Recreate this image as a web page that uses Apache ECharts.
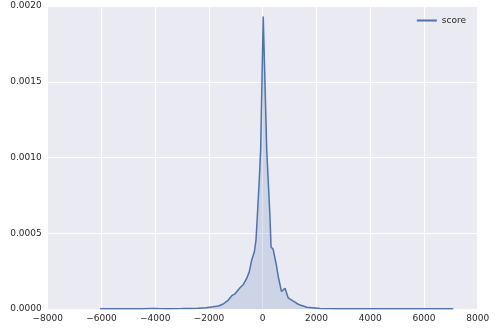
<!DOCTYPE html>
<html>
<head>
<meta charset="utf-8">
<script src="https://cdn.jsdelivr.net/npm/echarts@6/dist/echarts.min.js"></script>
<style>html,body{margin:0;padding:0;background:#fff;}#c{width:501px;height:329px;}</style>
</head>
<body>
<div id="c"></div>
<script>
var seriesName = 'score';
var xs = [-6050, -5500, -5000, -4500, -4100, -3900, -3500, -3000, -2700, -2400, -2100, -1850, -1650, -1470, -1280, -1150, -1030, -960, -845, -720, -600, -500, -410, -310, -250, -200, -120, -75, 20, 150, 210, 270, 310, 390, 495, 580, 700, 765, 830, 950, 1080, 1260, 1390, 1640, 2130, 2700, 3500, 4500, 5500, 6500, 7090];
var ys = [0.000001, 0.000001, 0.000001, 0.000002, 0.000004, 0.000003, 0.000002, 0.000003, 0.000004, 0.000005, 0.000009, 0.000015, 0.000020, 0.000033, 0.000059, 0.000088, 0.000100, 0.000105, 0.000140, 0.000162, 0.000200, 0.000245, 0.000323, 0.000378, 0.000455, 0.00061, 0.00088, 0.00106, 0.00193, 0.00105, 0.00083, 0.00061, 0.00041, 0.000394, 0.000302, 0.000213, 0.000115, 0.000104, 0.000137, 0.000073, 0.000059, 0.000038, 0.000026, 0.000011, 0.000003, 0.000002, 0.000001, 0.000001, 0.000001, 0.000001, 0.000001];
var xTicks = [-8000, -6000, -4000, -2000, 0, 2000, 4000, 6000, 8000];
var yTicks = [0, 0.0005, 0.001, 0.0015, 0.002];

var data = xs.map(function (x, i) { return [x, ys[i]]; });
var font = 'DejaVu Sans';
var chart = echarts.init(document.getElementById('c'), null, {renderer: 'canvas'});
chart.setOption({
  animation: false,
  backgroundColor: '#ffffff',
  grid: {left: 47.7, right: 23.3, top: 6, bottom: 20, show: true, backgroundColor: '#eaeaf2', borderWidth: 0},
  legend: {
    show: true, right: 30, top: 11, itemWidth: 20, itemHeight: 12, itemGap: 5,
    icon: 'path://M0,5 L20,5 L20,7 L0,7 Z',
    textStyle: {fontFamily: font, fontSize: 9, color: '#262626'},
    data: [{name: seriesName, itemStyle: {color: '#4c72b0'}}]
  },
  xAxis: {
    type: 'value', min: xTicks[0], max: xTicks[xTicks.length - 1], interval: 2000,
    axisLine: {show: false}, axisTick: {show: false},
    splitLine: {show: true, lineStyle: {color: '#ffffff', width: 1}},
    axisLabel: {fontFamily: font, fontSize: 9, color: '#262626', margin: 5,
      formatter: function (v) { return v < 0 ? '\u2212' + Math.abs(v) : String(v); }}
  },
  yAxis: {
    type: 'value', min: yTicks[0], max: yTicks[yTicks.length - 1], interval: 0.0005,
    axisLine: {show: false}, axisTick: {show: false},
    splitLine: {show: true, lineStyle: {color: '#ffffff', width: 1}},
    axisLabel: {fontFamily: font, fontSize: 9, color: '#262626', margin: 6,
      formatter: function (v) { return v.toFixed(4); }}
  },
  series: [{
    name: seriesName, type: 'line', data: data, showSymbol: false, symbol: 'none',
    lineStyle: {color: '#4c72b0', width: 1.5},
    itemStyle: {color: '#4c72b0'},
    areaStyle: {color: 'rgba(76,114,176,0.25)'}
  }]
});
</script>
</body>
</html>
